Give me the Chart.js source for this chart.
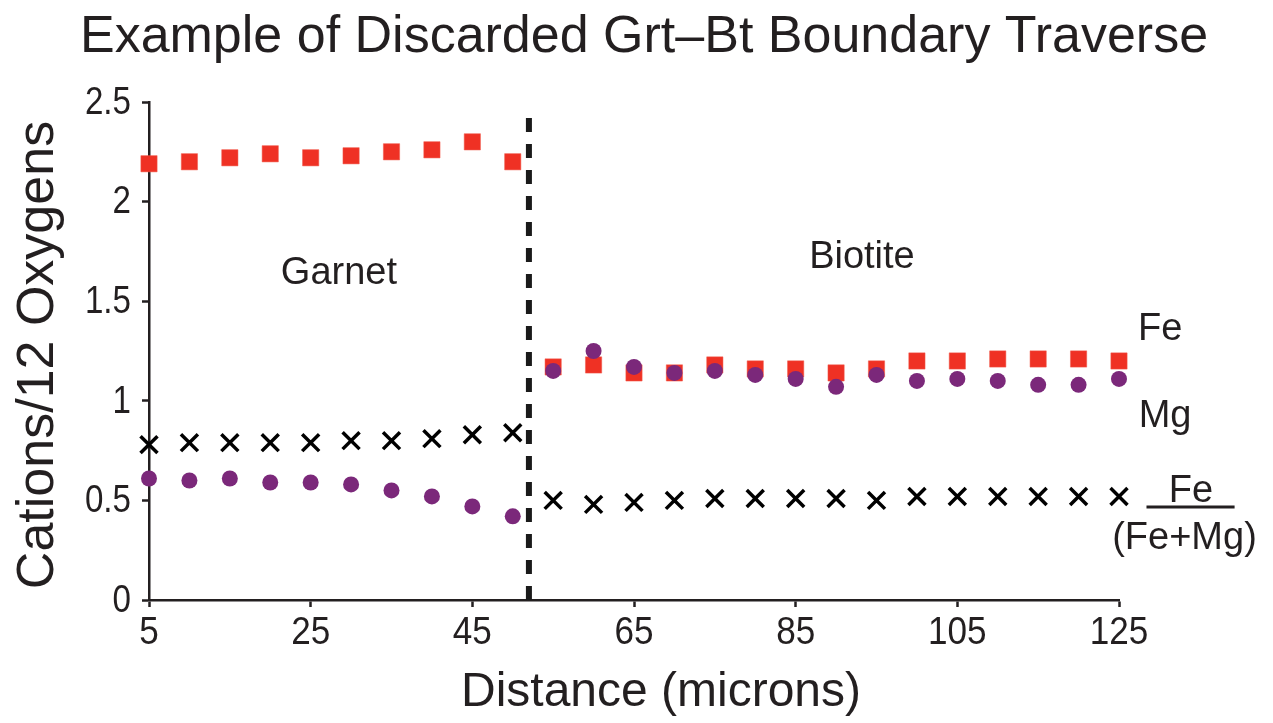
<!DOCTYPE html>
<html>
<head>
<meta charset="utf-8">
<script src="https://cdn.jsdelivr.net/npm/chart.js@4/dist/chart.umd.min.js"></script>
<style>
  html, body { margin: 0; padding: 0; background: #fff; }
  #chart { display: block; }
</style>
</head>
<body>
<canvas id="chart" width="1273" height="723"></canvas>
<script>
// traverse positions (microns)
const distGarnet = [5, 10, 15, 20, 25, 30, 35, 40, 45, 50];
const distBiotite = [55, 60, 65, 70, 75, 80, 85, 90, 95, 100, 105, 110, 115, 120, 125];

// cations per 12 oxygens
const feGarnet = [2.19, 2.20, 2.22, 2.24, 2.22, 2.23, 2.25, 2.26, 2.30, 2.20];
const feBiotite = [1.17, 1.18, 1.14, 1.14, 1.18, 1.16, 1.16, 1.14, 1.16, 1.20, 1.20, 1.21, 1.21, 1.21, 1.20];
const mgGarnet = [0.61, 0.60, 0.61, 0.59, 0.59, 0.58, 0.55, 0.52, 0.47, 0.42];
const mgBiotite = [1.15, 1.25, 1.17, 1.14, 1.15, 1.13, 1.11, 1.07, 1.13, 1.10, 1.11, 1.10, 1.08, 1.08, 1.11];
const ratioGarnet = [0.78, 0.79, 0.79, 0.79, 0.79, 0.80, 0.80, 0.81, 0.83, 0.84];
const ratioBiotite = [0.50, 0.48, 0.49, 0.50, 0.51, 0.51, 0.51, 0.51, 0.50, 0.52, 0.52, 0.52, 0.52, 0.52, 0.52];

// axes
const xTicks = [5, 25, 45, 65, 85, 105, 125];
const yTicks = [0, 0.5, 1, 1.5, 2, 2.5];
const yTickLabels = ['0', '0.5', '1', '1.5', '2', '2.5'];
const boundaryX = 52;
const boundaryTop = 2.42;

const titleText = 'Example of Discarded Grt\u2013Bt Boundary Traverse';
const xTitle = 'Distance (microns)';
const yTitle = 'Cations/12 Oxygens';

const FONT = "'Liberation Sans', Helvetica, Arial, sans-serif";
const INK = '#231f20';

function pts(xs, ys) {
  return xs.map((x, i) => ({ x: x, y: ys[i] }));
}

function drawText(ctx, text, x, y, size, align, baseline, sx) {
  ctx.save();
  ctx.translate(x, y);
  ctx.scale(sx || 1, 1);
  ctx.font = size + 'px ' + FONT;
  ctx.fillStyle = INK;
  ctx.textAlign = align;
  ctx.textBaseline = baseline;
  ctx.fillText(text, 0, 0);
  ctx.restore();
}

// boundary line, tick labels, titles and labels
const decorations = {
  id: 'decorations',
  beforeDatasetsDraw(chart) {
    const ctx = chart.ctx;
    const xs = chart.scales.x;
    const ys = chart.scales.y;
    const bx = xs.getPixelForValue(boundaryX);
    ctx.save();
    ctx.strokeStyle = '#1a1a1a';
    ctx.lineWidth = 6;
    ctx.setLineDash([14, 12]);
    ctx.beginPath();
    ctx.moveTo(bx, ys.getPixelForValue(boundaryTop));
    ctx.lineTo(bx, ys.getPixelForValue(0));
    ctx.stroke();
    ctx.restore();
  },
  afterDraw(chart) {
    const ctx = chart.ctx;
    const xs = chart.scales.x;
    const ys = chart.scales.y;
    const area = chart.chartArea;

    yTicks.forEach((v, i) => {
      drawText(ctx, yTickLabels[i], area.left - 18, ys.getPixelForValue(v) + 1, 39, 'right', 'middle', 0.85);
    });
    xTicks.forEach((v) => {
      drawText(ctx, String(v), xs.getPixelForValue(v), area.bottom + 14, 39, 'center', 'top', 0.9);
    });

    drawText(ctx, titleText, 644, 52, 52, 'center', 'alphabetic');
    drawText(ctx, xTitle, 661, 706, 48, 'center', 'alphabetic');

    ctx.save();
    ctx.translate(53, 355);
    ctx.rotate(-Math.PI / 2);
    drawText(ctx, yTitle, 0, 0, 52, 'center', 'alphabetic');
    ctx.restore();

    drawText(ctx, 'Garnet', xs.getPixelForValue(28.5), ys.getPixelForValue(1.64), 38, 'center', 'middle');
    drawText(ctx, 'Biotite', xs.getPixelForValue(93.2), ys.getPixelForValue(1.72), 38, 'center', 'middle');

    drawText(ctx, 'Fe', xs.getPixelForValue(130.1), ys.getPixelForValue(1.36), 38, 'center', 'middle');
    drawText(ctx, 'Mg', xs.getPixelForValue(130.7), ys.getPixelForValue(0.92), 38, 'center', 'middle');
    drawText(ctx, 'Fe', xs.getPixelForValue(133.9), ys.getPixelForValue(0.545), 38, 'center', 'middle');
    drawText(ctx, '(Fe+Mg)', xs.getPixelForValue(133.1), ys.getPixelForValue(0.31), 38, 'center', 'middle');

    ctx.save();
    ctx.strokeStyle = INK;
    ctx.lineWidth = 3;
    ctx.beginPath();
    ctx.moveTo(xs.getPixelForValue(128.4), ys.getPixelForValue(0.467));
    ctx.lineTo(xs.getPixelForValue(139.3), ys.getPixelForValue(0.467));
    ctx.stroke();
    ctx.restore();
  }
};

const axisCommon = {
  type: 'linear',
  border: { display: true, color: INK, width: 2.5 },
  grid: { display: true, drawOnChartArea: false, drawTicks: true, tickLength: 7, tickWidth: 2.5, tickColor: INK, color: INK },
  ticks: { display: false }
};

new Chart(document.getElementById('chart'), {
  type: 'scatter',
  data: {
    datasets: [
      {
        label: 'Fe',
        data: pts(distGarnet.concat(distBiotite), feGarnet.concat(feBiotite)),
        pointStyle: 'rect',
        pointRadius: 11.5,
        backgroundColor: '#ef3124',
        borderColor: '#f05a4c',
        borderWidth: 0.5,
        clip: false,
        order: 3
      },
      {
        label: 'Mg',
        data: pts(distGarnet.concat(distBiotite), mgGarnet.concat(mgBiotite)),
        pointStyle: 'circle',
        pointRadius: 8,
        backgroundColor: '#7b287a',
        borderColor: '#7b287a',
        borderWidth: 0,
        clip: false,
        order: 2
      },
      {
        label: 'Fe/(Fe+Mg)',
        data: pts(distGarnet.concat(distBiotite), ratioGarnet.concat(ratioBiotite)),
        pointStyle: 'crossRot',
        pointRadius: 12,
        borderColor: '#000',
        backgroundColor: '#000',
        borderWidth: 3.5,
        clip: false,
        order: 1
      }
    ]
  },
  options: {
    responsive: false,
    animation: false,
    devicePixelRatio: 1,
    layout: { padding: { top: 102, right: 154, left: 0, bottom: 0 } },
    plugins: {
      legend: { display: false },
      title: { display: false },
      tooltip: { enabled: false }
    },
    elements: { point: { hoverRadius: 8 } },
    scales: {
      x: Object.assign({}, axisCommon, {
        min: 5,
        max: 125,
        afterBuildTicks(scale) { scale.ticks = xTicks.map((v) => ({ value: v })); },
        afterFit(scale) { scale.height = 123; }
      }),
      y: Object.assign({}, axisCommon, {
        min: 0,
        max: 2.5,
        afterBuildTicks(scale) { scale.ticks = yTicks.map((v) => ({ value: v })); },
        afterFit(scale) { scale.width = 149; }
      })
    }
  },
  plugins: [decorations]
});
</script>
</body>
</html>
